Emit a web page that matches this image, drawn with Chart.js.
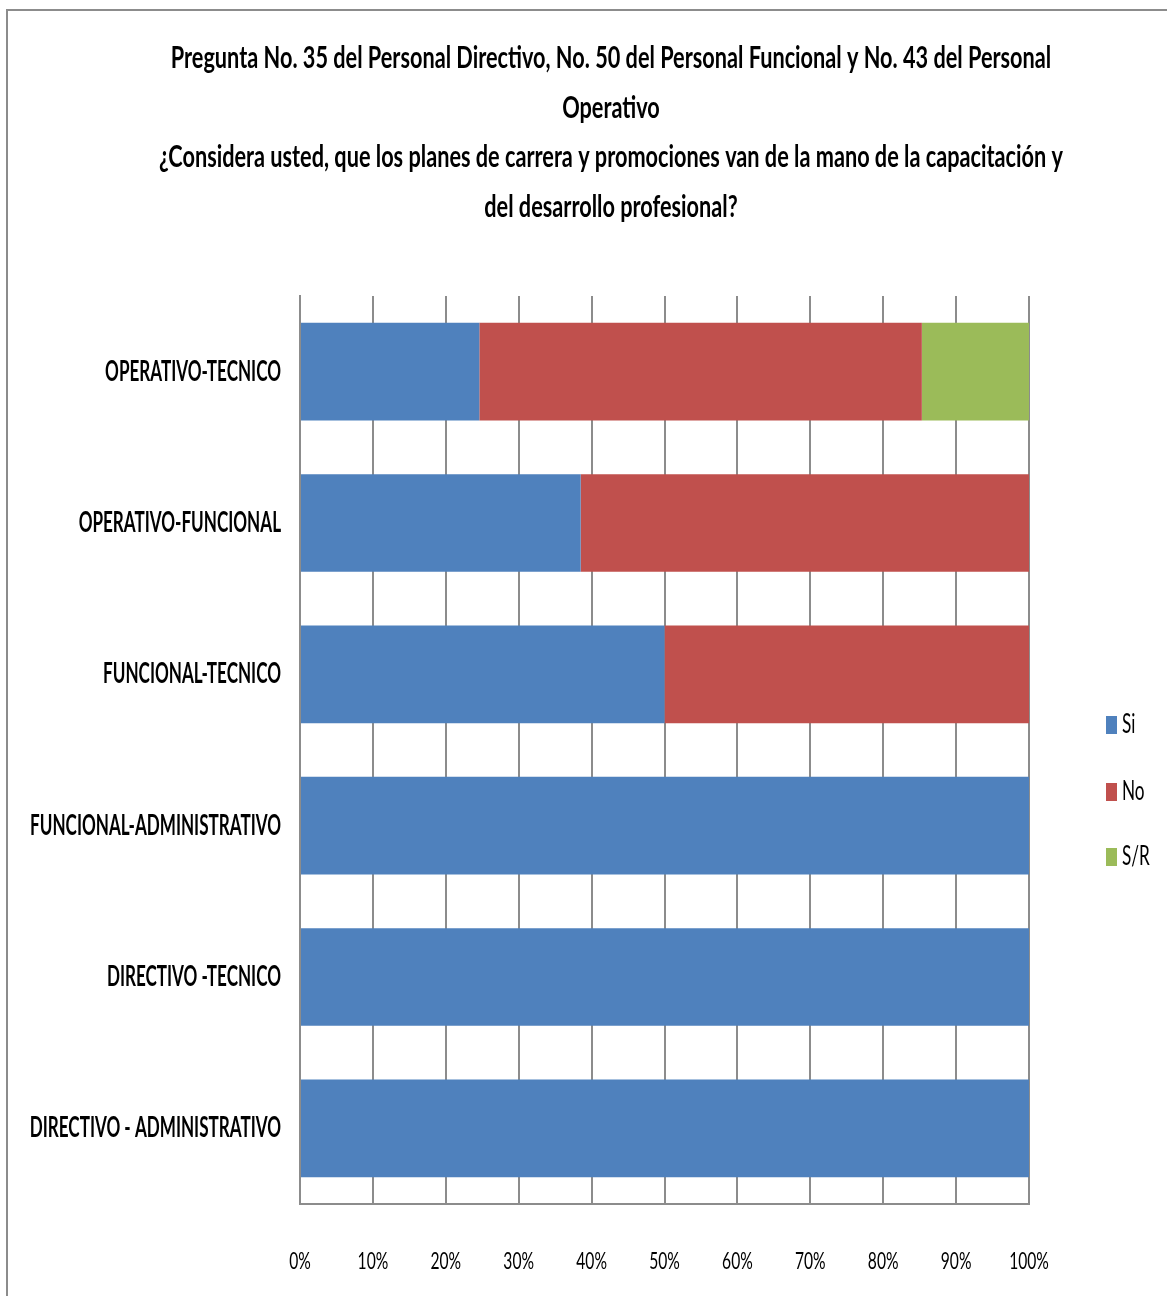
<!DOCTYPE html>
<html lang="es">
<head>
<meta charset="utf-8">
<title>Planes de carrera y promociones</title>
<script src="https://cdn.jsdelivr.net/npm/chart.js@4"></script>
<style>
  html, body { margin: 0; padding: 0; background: #ffffff; }
  #wrap { width: 1167px; height: 1296px; position: relative; }
  canvas { display: block; }
</style>
</head>
<body>
<div id="wrap"><canvas id="chart" width="1167" height="1296"></canvas></div>
<script>
// Survey groups, top to bottom
const categories = [
  'OPERATIVO-TECNICO',
  'OPERATIVO-FUNCIONAL',
  'FUNCIONAL-TECNICO',
  'FUNCIONAL-ADMINISTRATIVO',
  'DIRECTIVO -TECNICO',
  'DIRECTIVO - ADMINISTRATIVO'
];

// Answer shares in percent
const siValues = [24.6, 38.5, 50, 100, 100, 100];
const noValues = [60.7, 61.5, 50, 0, 0, 0];
const srValues = [14.7, 0, 0, 0, 0, 0];

const seriesNames = ['Si', 'No', 'S/R'];
const seriesColors = ['#4F81BD', '#C0504D', '#9BBB59'];

const tickValues = [0, 10, 20, 30, 40, 50, 60, 70, 80, 90, 100];
const tickLabels = ['0%', '10%', '20%', '30%', '40%', '50%', '60%', '70%', '80%', '90%', '100%'];

const titleLines = [
  'Pregunta No. 35 del Personal Directivo, No. 50 del Personal Funcional y No. 43 del Personal',
  'Operativo',
  '¿Considera usted, que los planes de carrera y promociones van de la mano de la capacitación y',
  'del desarrollo profesional?'
];

// Narrow text: draw with a horizontal squeeze
function squeezedText(ctx, text, x, y, font, align, sx, color) {
  ctx.save();
  ctx.font = font;
  ctx.fillStyle = color;
  ctx.textBaseline = 'middle';
  ctx.textAlign = 'left';
  const w = ctx.measureText(text).width * sx;
  const left = align === 'center' ? x - w / 2 : (align === 'right' ? x - w : x);
  ctx.translate(left, y);
  ctx.scale(sx, 1);
  ctx.fillText(text, 0, 0);
  ctx.restore();
}

const textPlugin = {
  id: 'squeezedLabels',
  beforeDraw(chart) {
    const ctx = chart.ctx;
    ctx.save();
    ctx.fillStyle = '#ffffff';
    ctx.fillRect(0, 0, chart.width, chart.height);
    // outer frame
    ctx.strokeStyle = '#8c8c8c';
    ctx.lineWidth = 2;
    ctx.strokeRect(7, 10, chart.width + 50, chart.height + 50);
    ctx.restore();
  },
  afterDraw(chart) {
    const ctx = chart.ctx;
    const xs = chart.scales.x;
    const ys = chart.scales.y;

    // title
    const titleY = [58, 108, 157, 207];
    titleLines.forEach((line, i) => {
      squeezedText(ctx, line, 611, titleY[i], 'bold 31px Lato', 'center', 0.70, '#000000');
    });

    // category labels
    categories.forEach((c, i) => {
      squeezedText(ctx, c, xs.left - 19, ys.getPixelForValue(i), 'bold 28px Lato', 'right', 0.61, '#000000');
    });

    // value axis labels
    tickValues.forEach((v, i) => {
      squeezedText(ctx, tickLabels[i], xs.getPixelForValue(v), 1262, '23px Lato', 'center', 0.68, '#000000');
    });

    // legend
    const legendY = [725, 792, 857];
    chart.data.datasets.forEach((ds, i) => {
      ctx.save();
      ctx.fillStyle = ds.backgroundColor;
      ctx.fillRect(1106, legendY[i] - 9, 11, 18);
      ctx.restore();
      squeezedText(ctx, ds.label, 1122, legendY[i], '26px Lato', 'left', 0.66, '#000000');
    });
  }
};

const seriesData = [siValues, noValues, srValues];

new Chart(document.getElementById('chart'), {
  type: 'bar',
  data: {
    labels: categories,
    datasets: seriesNames.map((name, i) => ({
      label: name,
      data: seriesData[i],
      backgroundColor: seriesColors[i],
      borderWidth: 0,
      barPercentage: 0.645,
      categoryPercentage: 1.0
    }))
  },
  options: {
    indexAxis: 'y',
    responsive: false,
    animation: false,
    devicePixelRatio: 1,
    layout: { padding: { left: 300, right: 138, top: 296, bottom: 92 } },
    plugins: {
      legend: { display: false },
      title: { display: false },
      tooltip: { enabled: false }
    },
    scales: {
      x: {
        stacked: true,
        min: 0,
        max: 100,
        ticks: { display: false, stepSize: 10 },
        grid: { color: '#8c8c8c', lineWidth: 2, drawTicks: false },
        border: { display: true, color: '#8c8c8c', width: 2 }
      },
      y: {
        stacked: true,
        ticks: { display: false },
        grid: { display: false, drawTicks: false },
        border: { display: true, color: '#8c8c8c', width: 2 }
      }
    }
  },
  plugins: [textPlugin]
});
</script>
</body>
</html>
